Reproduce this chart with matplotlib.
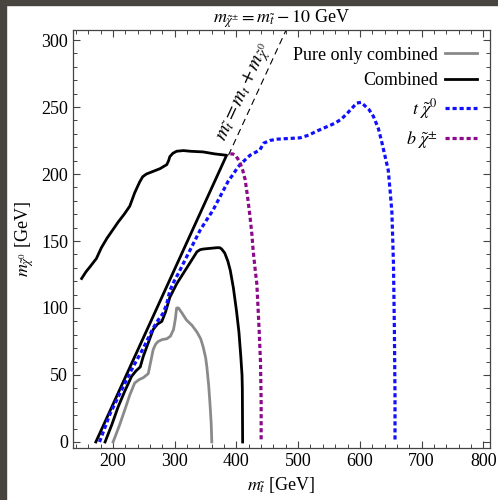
import matplotlib.pyplot as plt
import numpy as np
from matplotlib.patches import Rectangle

plt.rcParams['font.family'] = ['Liberation Serif', 'DejaVu Serif']
plt.rcParams['mathtext.fontset'] = 'stix'

# ---- data ----
m_top = 173.0

comb_out_x = [149, 156, 163, 173, 181, 190, 199, 208, 218, 227, 235, 243, 248, 254, 265, 276, 287,
              290, 292, 297, 303, 314, 325, 346, 365, 384, 172]
comb_out_y = [122, 127, 131, 137, 145, 152, 158, 164, 170, 176, 186, 194, 198, 200, 202, 204, 207,
              210, 213, 215.5, 217, 217.5, 217, 216.5, 215, 214, 0]

comb_in_x = [187, 198, 208, 219, 230, 237, 244, 249, 257, 265, 272, 279, 285, 292, 303, 314, 325,
             336, 341, 346, 357, 368, 373, 376, 381, 386, 390, 395, 400, 404, 407, 409, 409.5, 410]
comb_in_y = [0, 13, 26, 38, 49, 53, 56, 64, 74, 84, 88, 90, 97, 108, 118, 126, 134,
             142, 143.5, 144, 144.5, 145, 145, 144, 141, 135, 128, 115, 98, 82, 64, 50, 40, 0]

pure_x = [200, 210, 219, 227, 235, 242, 249, 257, 261, 265, 269, 273, 280, 287, 293, 298, 301, 303,
          306, 312, 319, 328, 336, 342, 346, 350, 352, 355, 357, 359, 360]
pure_y = [0, 12, 24, 35, 44, 46.5, 48, 51, 60, 69, 73, 75, 76.5, 77, 79, 84, 92, 100,
          100, 96, 91, 87, 82, 77, 71, 63, 56, 42, 29, 14, 0]

t_x = [178, 195, 214, 230, 249, 265, 273, 281, 287, 292, 299, 306, 319, 330, 341, 352, 362, 371,
       379, 387, 395, 402, 408, 415, 422, 430, 438, 444, 454, 465, 484, 503, 517, 530, 545, 560,
       570, 579, 587, 595, 602, 608, 615, 622, 630, 636, 641, 646, 649, 652, 654.5, 656, 657, 657]
t_y = [0, 21, 39, 54, 70, 85, 91, 96, 103, 113, 120, 126, 138, 148, 158, 166, 173, 181,
       188, 195, 200, 205, 208, 211, 214, 216, 218, 223, 225, 226, 226.5, 227, 229, 232, 235, 238,
       241, 245, 249, 253, 253.5, 251, 248, 243, 234, 223, 213, 203, 188, 171, 133, 84, 34, 0]

b_x = [390, 394, 398, 402, 406, 410, 414, 418, 422, 425, 427, 430, 433, 435, 437, 438, 439, 440, 440]
b_y = [215, 215, 214, 211.5, 208, 203, 196, 183, 168, 155, 143, 130, 118, 100, 81, 70, 59, 30, 0]

labels = ['Pure only combined', 'Combined', r'$t\ \tilde{\chi}^0$', r'$b\ \tilde{\chi}^{\pm}$']

fig = plt.figure(figsize=(4.98, 5.0), dpi=100)
ax = fig.add_axes([73 / 498, 1 - 448 / 500, (490 - 73) / 498, (448 - 30) / 500])

# dark screenshot border on left/top
fig.patches.append(Rectangle((0, 0), 6 / 498, 1, transform=fig.transFigure,
                             color='#48443f', zorder=-1))
fig.patches.append(Rectangle((0, 1 - 5 / 500), 1, 5 / 500, transform=fig.transFigure,
                             color='#48443f', zorder=-1))

# kinematic line
dy = np.array([214, 320])
ax.plot(dy + m_top, dy, color='black', lw=0.8, ls=(0, (6, 4)))

dot = (0, (1.3, 0.9))
h_pure, = ax.plot(pure_x, pure_y, color='#8a8a8a', lw=2.0)
h_comb, = ax.plot(comb_out_x, comb_out_y, color='black', lw=2.0)
ax.plot(comb_in_x, comb_in_y, color='black', lw=2.0)
h_t, = ax.plot(t_x, t_y, color='#1010ff', lw=2.3, ls=dot)
h_b, = ax.plot(b_x, b_y, color='#8b0a8b', lw=2.3, ls=dot)

ax.text(412, 261, r'$m_{\tilde{t}} = m_t + m_{\tilde{\chi}^0}$', rotation=65.3,
        ha='center', va='center', fontsize=14.5)

ax.set_xlim(135, 811)
ax.set_ylim(-4.5, 307.5)
ax.set_xticks(np.arange(200, 801, 100))
ax.set_xticks(np.arange(140, 811, 20), minor=True)
ax.set_yticks(np.arange(0, 301, 50))
ax.set_yticks(np.arange(0, 301, 10), minor=True)
ax.tick_params(which='both', direction='in', top=True, right=True, labelsize=13,
               color='#444444')
ax.tick_params(which='major', length=5, width=0.8)
ax.tick_params(which='minor', length=3, width=0.7)
for s in ax.spines.values():
    s.set_color('#444444')
    s.set_linewidth(0.9)

ax.set_title(r'$m_{\tilde{\chi}^{\pm}} = m_{\tilde{t}} - 10$ GeV', fontsize=13, pad=4)
ax.set_xlabel(r'$m_{\tilde{t}}$ [GeV]', fontsize=13, labelpad=4)
ax.set_ylabel(r'$m_{\tilde{\chi}^0}$ [GeV]', fontsize=13, labelpad=4)

ax.legend([h_pure, h_comb, h_t, h_b], labels, loc='upper right', frameon=False,
          markerfirst=False, fontsize=13, handlelength=1.8, handletextpad=0.4,
          labelspacing=0.45, borderaxespad=0.3, bbox_to_anchor=(1.0, 0.99))

fig.savefig('out.png', dpi=100)
